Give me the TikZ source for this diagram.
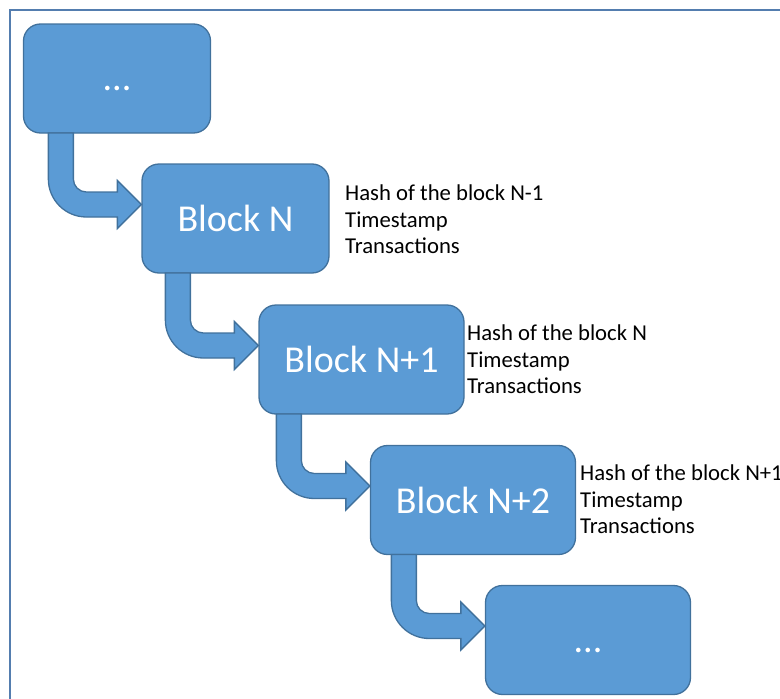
\documentclass[tikz,border=0pt]{standalone}
\usepackage{fontspec}
\setmainfont{Carlito}
\usetikzlibrary{calc, positioning}
\definecolor{blockfill}{RGB}{91,155,213}
\definecolor{blockline}{RGB}{65,113,156}
\definecolor{framecol}{RGB}{84,125,175}
\tikzset{
    block/.style = {rectangle, rounded corners=17pt, draw=blockline, fill=blockfill,
                    line width=1.3pt, minimum width=205pt, minimum height=109pt,
                    text=white, font=\fontsize{38}{44}\selectfont},
    narrow/.style = {minimum width=187pt},
    info/.style = {anchor=north west, inner sep=0pt, align=left,
                   font=\fontsize{22.7}{26.5}\selectfont},
    bent/.style = {draw=blockline, fill=blockfill, line width=1.3pt, line join=miter}
}
% bent block arrow: source block, shaft offset from its left side, target block
\newcommand{\bentarrow}[3]{%
  \path[bent] let \p1 = ($(#1.south west)+(#2,0)$), \p2 = ($(#3.west)+(0,-14)$) in
    (\x1-12.5pt,\y1+0.6pt) -- (\x1-12.5pt,\y2+25.5pt)
    arc[start angle=180, end angle=270, radius=38pt]
    -- (\x2-24pt,\y2-12.5pt) -- (\x2-24pt,\y2-24pt) -- (\x2,\y2)
    -- (\x2-24pt,\y2+24pt) -- (\x2-24pt,\y2+12.5pt) -- (\x1+25.5pt,\y2+12.5pt)
    arc[start angle=270, end angle=180, radius=13pt]
    -- (\x1+12.5pt,\y1+0.6pt) -- cycle;
}

\begin{document}
\begin{tikzpicture}[x=1pt, y=-1pt]
    \useasboundingbox (0,0) rectangle (780,699);

    % frame
    \draw[framecol, line width=2.5pt] (780,10) -- (10,10) -- (10,699);

    \node[block, narrow] (first) at (117,78.5) {\vphantom{B}...};
    \node[block, narrow] (blkN) at (235.5,218.5) {Block N};
    \node[block] (blkN1) at (361.5,359.5) {Block N+1};
    \node[block] (blkN2) at (473,500) {Block N+2};
    \node[block] (last) at (588,640) {\vphantom{B}...};

    \node[info] (infoN) at (345,185) {Hash of the block N-1\\Timestamp\\Transactions};
    \node[info] (infoN1) at (467,325) {Hash of the block N\\Timestamp\\Transactions};
    \node[info] (infoN2) at (580,465) {Hash of the block N+1\\Timestamp\\Transactions};

    \bentarrow{first}{38}{blkN}
    \bentarrow{blkN}{36.5}{blkN1}
    \bentarrow{blkN1}{30.5}{blkN2}
    \bentarrow{blkN2}{34}{last}
\end{tikzpicture}
\end{document}
